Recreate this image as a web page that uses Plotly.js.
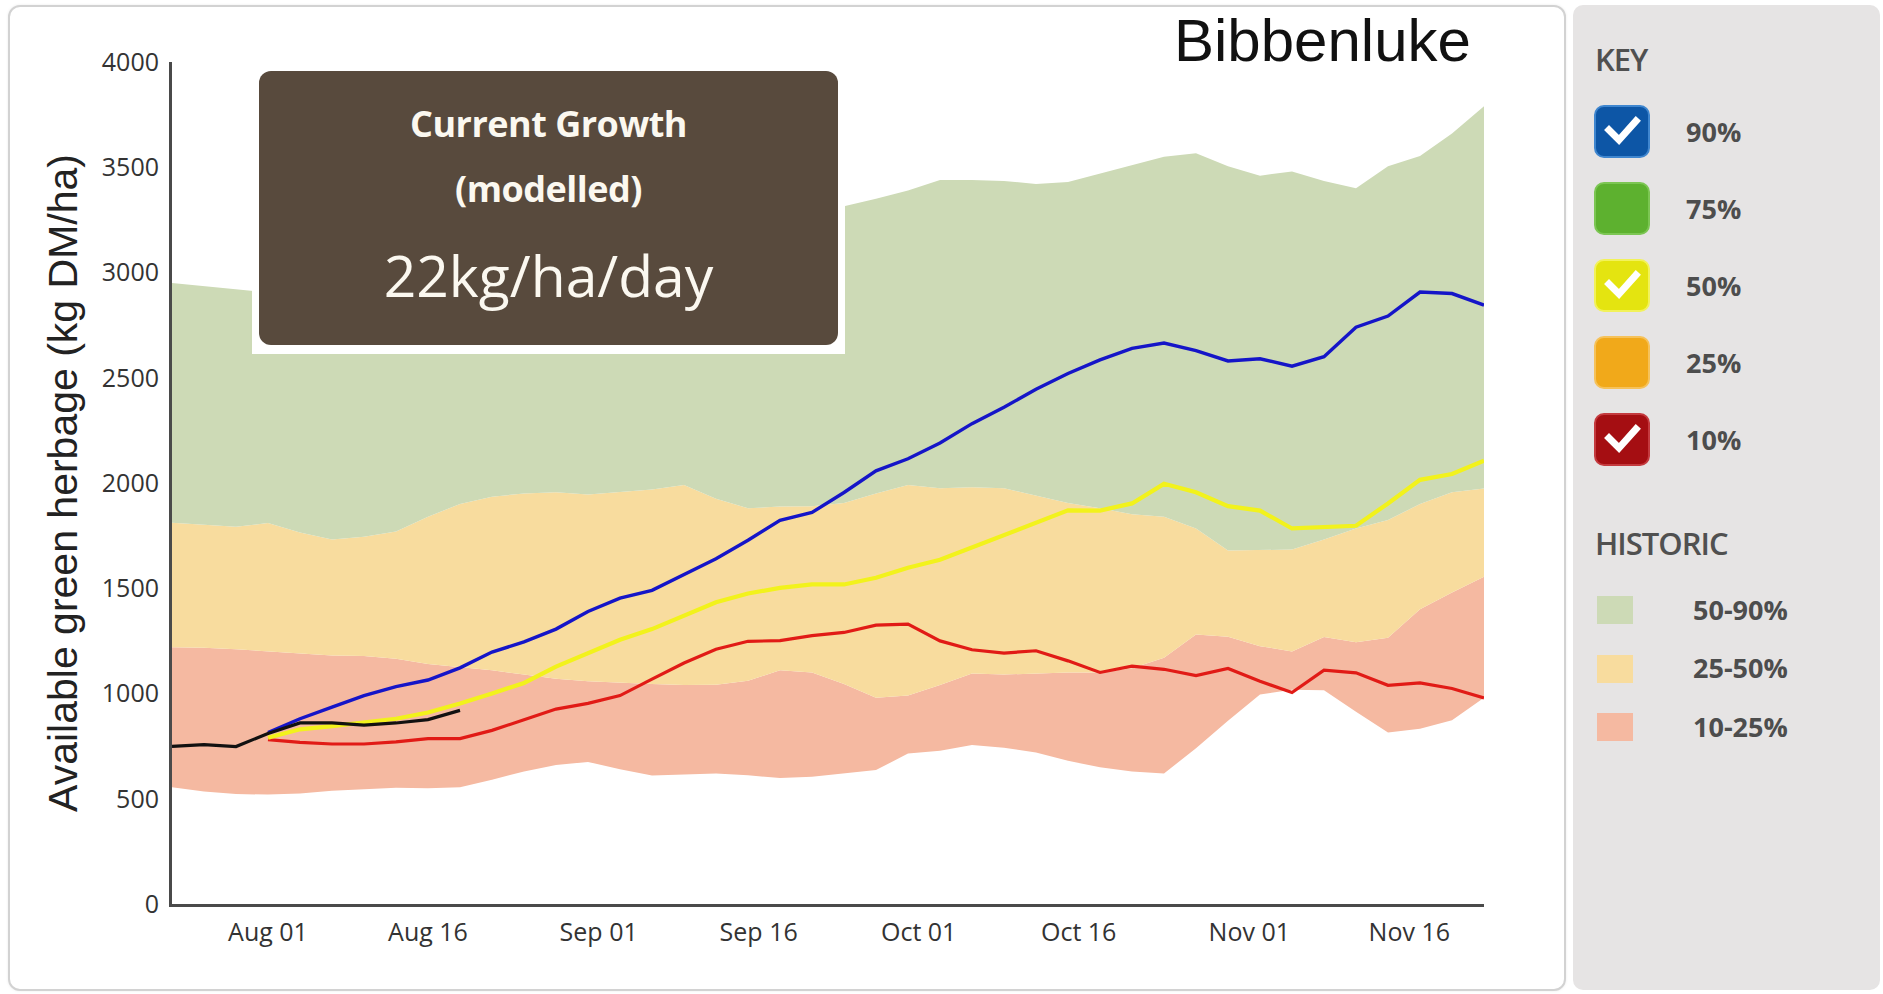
<!DOCTYPE html>
<html>
<head>
<meta charset="utf-8">
<script src="https://cdn.plot.ly/plotly-3.0.1.min.js"></script>
<style>
html,body{margin:0;padding:0;background:#fff;}
#wrap{position:relative;width:1883px;height:994px;overflow:hidden;background:#fff;}
#panel{position:absolute;left:8px;top:5px;width:1554px;height:982px;border:2px solid #d2d2d2;border-radius:12px;background:#fff;box-shadow:0 0 3px rgba(0,0,0,0.08);}
#chart{position:absolute;left:0;top:0;width:1883px;height:994px;}
#key{position:absolute;left:1573px;top:5px;width:307px;height:985px;background:#e6e4e4;border-radius:10px;}
.txt{position:absolute;white-space:nowrap;line-height:1;font-family:'Open Sans',sans-serif;}
.box{position:absolute;border-radius:10px;box-sizing:border-box;}
.sw{position:absolute;}
#growth{position:absolute;left:252px;top:62px;width:593px;height:292px;background:#fff;}
#growthInner{position:absolute;left:7px;top:9px;width:579px;height:274px;background:#584a3d;border-radius:12px;}
#growthInner .txt{left:0;width:579px;text-align:center;color:#fbf8f0;}
</style>
</head>
<body>
<div id="wrap">
  <div id="panel"></div>
  <div id="chart"></div>
  <div id="growth"><div id="growthInner">
    <div class="txt" id="g1" style="top:35px;font-size:36px;font-weight:700;letter-spacing:-0.5px;">Current Growth</div>
    <div class="txt" id="g2" style="top:100px;font-size:36px;font-weight:700;letter-spacing:-0.5px;">(modelled)</div>
    <div class="txt" id="g3" style="top:176px;font-size:57px;font-weight:400;">22kg/ha/day</div>
  </div></div>
  <div id="key"></div>
</div>
<script>
// ---------- data ----------
const historicDates = ['2019-07-23','2019-07-26','2019-07-29','2019-08-01','2019-08-04','2019-08-07','2019-08-10','2019-08-13','2019-08-16','2019-08-19','2019-08-22','2019-08-25','2019-08-28','2019-08-31','2019-09-03','2019-09-06','2019-09-09','2019-09-12','2019-09-15','2019-09-18','2019-09-21','2019-09-24','2019-09-27','2019-09-30','2019-10-03','2019-10-06','2019-10-09','2019-10-12','2019-10-15','2019-10-18','2019-10-21','2019-10-24','2019-10-27','2019-10-30','2019-11-02','2019-11-05','2019-11-08','2019-11-11','2019-11-14','2019-11-17','2019-11-20','2019-11-23'];
const hist90 = [2950,2935,2920,2905,2920,2950,2975,3010,3040,3065,3100,3125,3160,3185,3205,3230,3245,3260,3270,3280,3295,3315,3350,3390,3440,3440,3435,3420,3430,3470,3510,3550,3567,3505,3460,3480,3435,3400,3505,3553,3660,3790];
const hist50 = [1811,1800,1792,1810,1765,1732,1745,1770,1840,1900,1935,1950,1956,1945,1956,1969,1990,1925,1880,1888,1890,1905,1950,1990,1975,1980,1975,1940,1905,1880,1851,1840,1784,1679,1680,1684,1731,1784,1824,1900,1956,1974];
const hist25 = [1220,1217,1210,1200,1188,1180,1178,1165,1140,1125,1110,1090,1070,1058,1050,1045,1040,1042,1060,1110,1100,1045,980,990,1040,1095,1090,1095,1100,1100,1120,1170,1280,1270,1225,1200,1268,1243,1265,1400,1480,1555];
const hist10 = [555,535,522,520,525,538,545,552,550,555,590,630,660,675,640,610,615,620,612,598,605,622,636,715,728,755,742,720,680,650,630,620,740,870,995,1018,1015,913,815,833,873,980];

const forecastDates = historicDates.slice(3);
const forecast90 = [815,880,935,990,1033,1064,1122,1197,1245,1306,1390,1453,1490,1565,1640,1728,1823,1860,1955,2058,2115,2190,2282,2360,2445,2520,2585,2640,2665,2629,2580,2590,2555,2600,2740,2793,2907,2900,2845];
const forecast50 = [790,830,845,860,880,910,952,1000,1050,1128,1192,1255,1306,1370,1433,1475,1502,1518,1518,1550,1597,1635,1693,1752,1810,1870,1869,1903,1996,1956,1890,1869,1784,1789,1797,1903,2015,2043,2106];
const forecast10 = [781,768,760,760,770,786,786,825,875,926,953,990,1068,1145,1210,1248,1251,1275,1290,1325,1330,1250,1208,1192,1203,1155,1100,1130,1115,1085,1119,1058,1005,1111,1098,1039,1050,1024,979];

const currentDates = historicDates.slice(0,10);
const currentValues = [749,757,748,810,860,860,850,860,876,920];

const xTickVals = ['2019-08-01','2019-08-16','2019-09-01','2019-09-16','2019-10-01','2019-10-16','2019-11-01','2019-11-16'];
const xTickText = ['Aug 01','Aug 16','Sep 01','Sep 16','Oct 01','Oct 16','Nov 01','Nov 16'];

const keyLabels = ['90%','75%','50%','25%','10%'];
const keyChecked = [true,false,true,false,true];
const historicLabels = ['50-90%','25-50%','10-25%'];

// ---------- styles ----------
const keyColors = ['#0d56a6','#5db12f','#e4e410','#f1a91a','#a50e12'];
const keyRims = ['#3f86cf','#7cc653','#f2f25a','#f6c25a','#c43a3e'];
const bandColors = ['#cddab6','#f8dc9e','#f5b9a1'];

const faint = {width:0, color:'rgba(0,0,0,0)'};
const traces = [
  {x:historicDates, y:hist10, mode:'lines', line:faint, hoverinfo:'skip', showlegend:false},
  {x:historicDates, y:hist25, mode:'lines', line:faint, fill:'tonexty', fillcolor:bandColors[2], hoverinfo:'skip', showlegend:false},
  {x:historicDates, y:hist50, mode:'lines', line:faint, fill:'tonexty', fillcolor:bandColors[1], hoverinfo:'skip', showlegend:false},
  {x:historicDates, y:hist90, mode:'lines', line:faint, fill:'tonexty', fillcolor:bandColors[0], hoverinfo:'skip', showlegend:false},
  {x:forecastDates, y:forecast10, mode:'lines', line:{color:'#e11b16', width:3.2}, showlegend:false},
  {x:forecastDates, y:forecast50, mode:'lines', line:{color:'#f2f21c', width:4.2}, showlegend:false},
  {x:forecastDates, y:forecast90, mode:'lines', line:{color:'#1515c8', width:3.4}, showlegend:false},
  {x:currentDates, y:currentValues, mode:'lines', line:{color:'#111111', width:3.2}, showlegend:false}
];

const layout = {
  width:1883, height:994,
  margin:{l:172, r:399, t:62, b:90},
  paper_bgcolor:'rgba(0,0,0,0)', plot_bgcolor:'rgba(0,0,0,0)',
  showlegend:false,
  title:{text:'Bibbenluke', font:{family:'Liberation Sans, Arial, sans-serif', size:60, color:'#111'},
         xref:'paper', x:0.99, xanchor:'right', yref:'container', y:0.96, yanchor:'middle'},
  xaxis:{type:'date', range:['2019-07-23','2019-11-23'], showgrid:false, zeroline:false,
         showline:true, linecolor:'#4a4a4a', linewidth:3, ticks:'',
         tickvals:xTickVals, ticktext:xTickText, ticklabelstandoff:4,
         tickfont:{family:'Open Sans, sans-serif', size:25, color:'#333'}},
  yaxis:{range:[0,4000], dtick:500, tick0:0, showgrid:false, zeroline:false,
         showline:true, linecolor:'#4a4a4a', linewidth:3, ticks:'', ticklabelstandoff:5,
         tickfont:{family:'Open Sans, sans-serif', size:25, color:'#333'},
         title:{text:'Available green herbage (kg DM/ha)', standoff:12,
                font:{family:'Liberation Sans, Arial, sans-serif', size:41, color:'#222'}}}
};

Plotly.newPlot('chart', traces, layout, {displayModeBar:false, staticPlot:true});

// ---------- key panel ----------
const wrap = document.getElementById('wrap');
function addText(txt, left, capCenter, size, weight, color){
  const d = document.createElement('div');
  d.className = 'txt';
  d.textContent = txt;
  d.style.left = left + 'px';
  d.style.top = (capCenter - 0.53*size) + 'px';
  d.style.fontSize = size + 'px';
  d.style.fontWeight = weight;
  d.style.color = color;
  wrap.appendChild(d);
  return d;
}
addText('KEY', 1595, 60, 31, 600, '#505050').style.letterSpacing = '-1px';
keyLabels.forEach((lab, i) => {
  const top = 105 + 77*i;
  const b = document.createElement('div');
  b.className = 'box';
  b.style.left = '1594px'; b.style.top = top + 'px';
  b.style.width = '56px'; b.style.height = '53px';
  b.style.background = keyColors[i];
  b.style.border = '2px solid ' + keyRims[i];
  if (keyChecked[i]) {
    b.innerHTML = '<svg width="52" height="49" style="position:absolute;left:0;top:0"><polyline points="13,23 23,33 40,14" fill="none" stroke="#ffffff" stroke-width="7" stroke-linecap="square"/></svg>';
  }
  wrap.appendChild(b);
  addText(lab, 1686, top + 27, 27, 700, '#4d4d4d');
});
addText('HISTORIC', 1595, 544, 31, 600, '#505050').style.letterSpacing = '-1px';
historicLabels.forEach((lab, j) => {
  const top = 596 + 58.5*j;
  const s = document.createElement('div');
  s.className = 'sw';
  s.style.left = '1597px'; s.style.top = top + 'px';
  s.style.width = '36px'; s.style.height = '28px';
  s.style.background = bandColors[j];
  wrap.appendChild(s);
  addText(lab, 1693, top + 14, 27, 700, '#4d4d4d');
});
</script>
</body>
</html>
